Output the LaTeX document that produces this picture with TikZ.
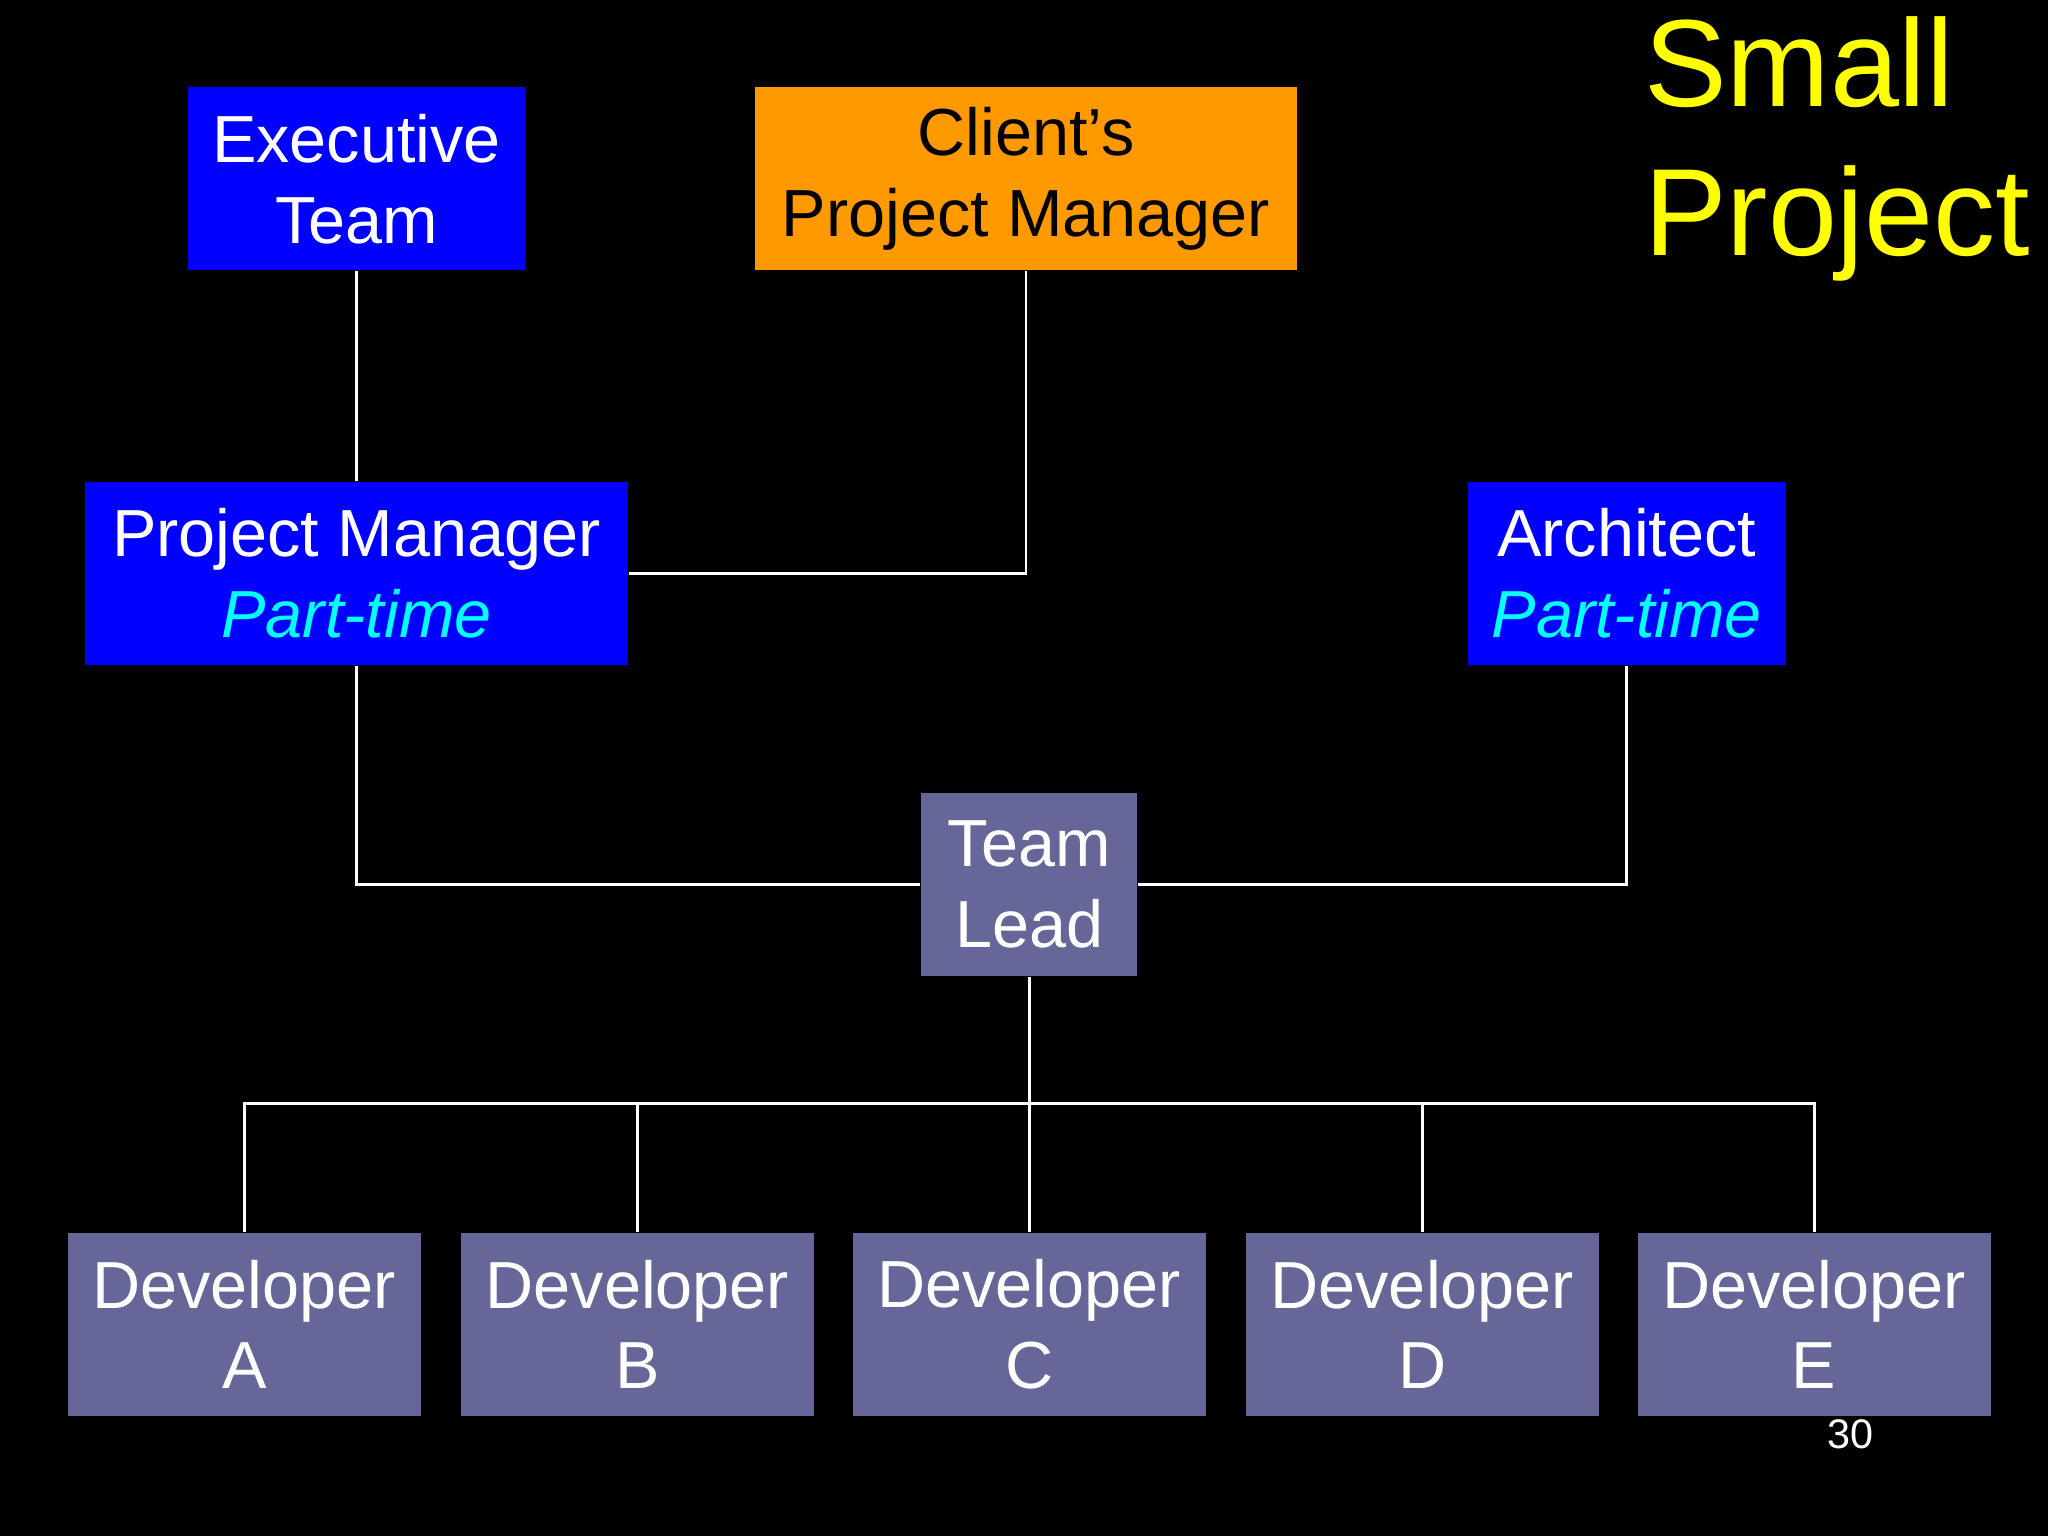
\documentclass[tikz,border=0pt]{standalone}
\usepackage{fontspec}
\setmainfont{Liberation Sans}
\begin{document}
\begin{tikzpicture}[x=0.01cm,y=-0.01cm,
 box/.style={draw=none,inner sep=0,align=center,text=white,font=\fontsize{14.5}{17.6}\selectfont,minimum height=1.4cm},
 blue box/.style={box,fill={rgb,255:red,0;green,0;blue,255}},
 gray box/.style={box,fill={rgb,255:red,102;green,102;blue,153}},
 link/.style={draw=white,line width=0.6pt}]
\fill[black] (0,0) rectangle (1568,1176);
\definecolor{pt}{RGB}{0,255,255}
\node[blue box,minimum width=2.58cm] (exec) at (273,137) {Executive\\Team};
\node[box,fill={rgb,255:red,255;green,153;blue,0},text=black,minimum width=4.15cm] (client) at (785.5,137) {Client’s\\Project Manager};
\node[blue box,minimum width=4.16cm] (pm) at (273,439) {Project Manager\\\textcolor{pt}{\itshape Part-time}};
\node[blue box,minimum width=2.43cm] (arch) at (1245.5,439) {Architect\\\textcolor{pt}{\itshape Part-time}};
\node[gray box,minimum width=1.65cm] (tl) at (788,677) {Team\\Lead};
\foreach \n/\x/\l in {a/187/A,b/488/B,c/788/C,d/1089/D,e/1389/E}
  \node[gray box,minimum width=2.7cm] (dev\n) at (\x,1014) {Developer\\\l};
\coordinate (bus) at (788,845);
\draw[link] (exec.south) -- (pm.north);
\draw[link] (client.south) |- (pm.east);
\draw[link] (pm.south) |- (tl.west);
\draw[link] (arch.south) |- (tl.east);
\draw[link] (tl.south) -- (bus);
\draw[link] (deva.north) |- (bus) -| (deve.north);
\foreach \n in {b,c,d} \draw[link] (dev\n.north) -- (dev\n.north |- bus);
\node[anchor=north west,align=left,inner sep=0,text={rgb,255:red,255;green,255;blue,0},font=\fontsize{27}{32.5}\selectfont] (title) at (1258,12) {Small\\Project};
\node[text=white,font=\fontsize{9}{10}\selectfont,inner sep=0] (num) at (1417,1098) {30};
\end{tikzpicture}
\end{document}
